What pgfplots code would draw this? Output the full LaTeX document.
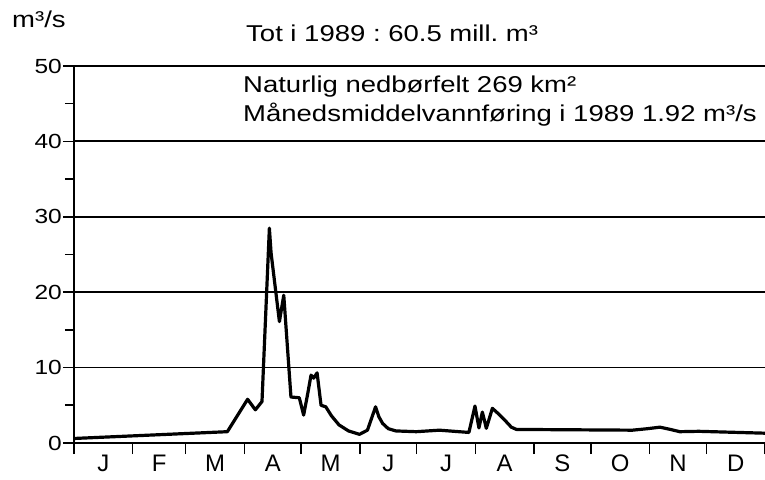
\documentclass[border=0pt]{standalone}
\usepackage{pgfplots}
\pgfplotsset{compat=1.18}
\usepackage{fontspec}
\setmainfont{Liberation Sans}
\newfontfamily\wide{Liberation Sans}[FakeStretch=1.2]

\begin{document}
\begin{tikzpicture}
\begin{axis}[
    name=ax,
    scale only axis,
    width=691bp, height=377bp,
    xmin=0, xmax=365,
    ymin=0, ymax=50,
    axis lines*=left,
    axis line style={black, line width=2bp},
    ytick={0,10,...,50},
    minor ytick={5,15,...,45},
    ymajorgrids,
    major grid style={black, line width=1.8bp},
    tick align=outside,
    major tick length=11bp,
    minor tick length=9bp,
    tick style={black, line width=1.6bp},
    xtick={0,31,59,90,120,151,181,212,243,273,304,334,365},
    xticklabels={J,F,M,A,M,J,J,A,S,O,N,D},
    x tick label as interval,
    /pgf/number format/assume math mode=true,
    yticklabel style={font=\wide\fontsize{20.5}{21}\selectfont, inner sep=1bp},
    xticklabel style={font=\fontsize{24}{24}\selectfont, inner sep=1bp},
]
% daily runoff 1989, m3/s (x = day of year)
\addplot[black, line width=3.2bp, line join=round] coordinates {
    (0,0.6) (81,1.5) (91.7,5.8) (95.8,4.4) (99.3,5.5) (103.2,28.5)
    (104.1,25.2) (108.5,16.1) (110.8,19.6) (114.6,6.1) (119,6.0)
    (121.3,3.7) (123.5,6.6) (125.2,9.0) (126.6,8.6) (128.4,9.3)
    (130.5,5.0) (133,4.8) (136,3.6) (140,2.4) (145,1.6) (150.8,1.15)
    (155,1.7) (159.3,4.8) (161,3.5) (163,2.6) (166,1.9) (170,1.6)
    (180.8,1.5) (193,1.7) (208.6,1.4) (211.8,4.9) (213.9,2.0)
    (215.7,4.1) (217.8,1.95) (221,4.6) (224.5,3.8) (228.4,2.8)
    (231,2.1) (233.7,1.8) (295,1.7) (303,1.9) (309.5,2.1) (315,1.8)
    (320,1.5) (330,1.55) (365,1.3)
};
\end{axis}

\begin{scope}[every node/.style={inner sep=0pt, anchor=base west,
    font=\wide\fontsize{23}{26}\selectfont}]
\node at ([xshift=-62bp, yshift=38bp]ax.north west) {m³/s};
\node at ([xshift=172bp, yshift=24bp]ax.north west) {Tot i 1989\ :\ 60.5 mill.\ m³};
\node at ([xshift=169bp, yshift=-27bp]ax.north west) {Naturlig nedbørfelt 269 km²};
\node at ([xshift=169bp, yshift=-56bp]ax.north west) {Månedsmiddelvannføring i 1989 1.92 m³/s};
\end{scope}

\pgfresetboundingbox
\path ([xshift=-74bp, yshift=-37bp]ax.south west) rectangle ([yshift=66bp]ax.north east);
\end{tikzpicture}
\end{document}
